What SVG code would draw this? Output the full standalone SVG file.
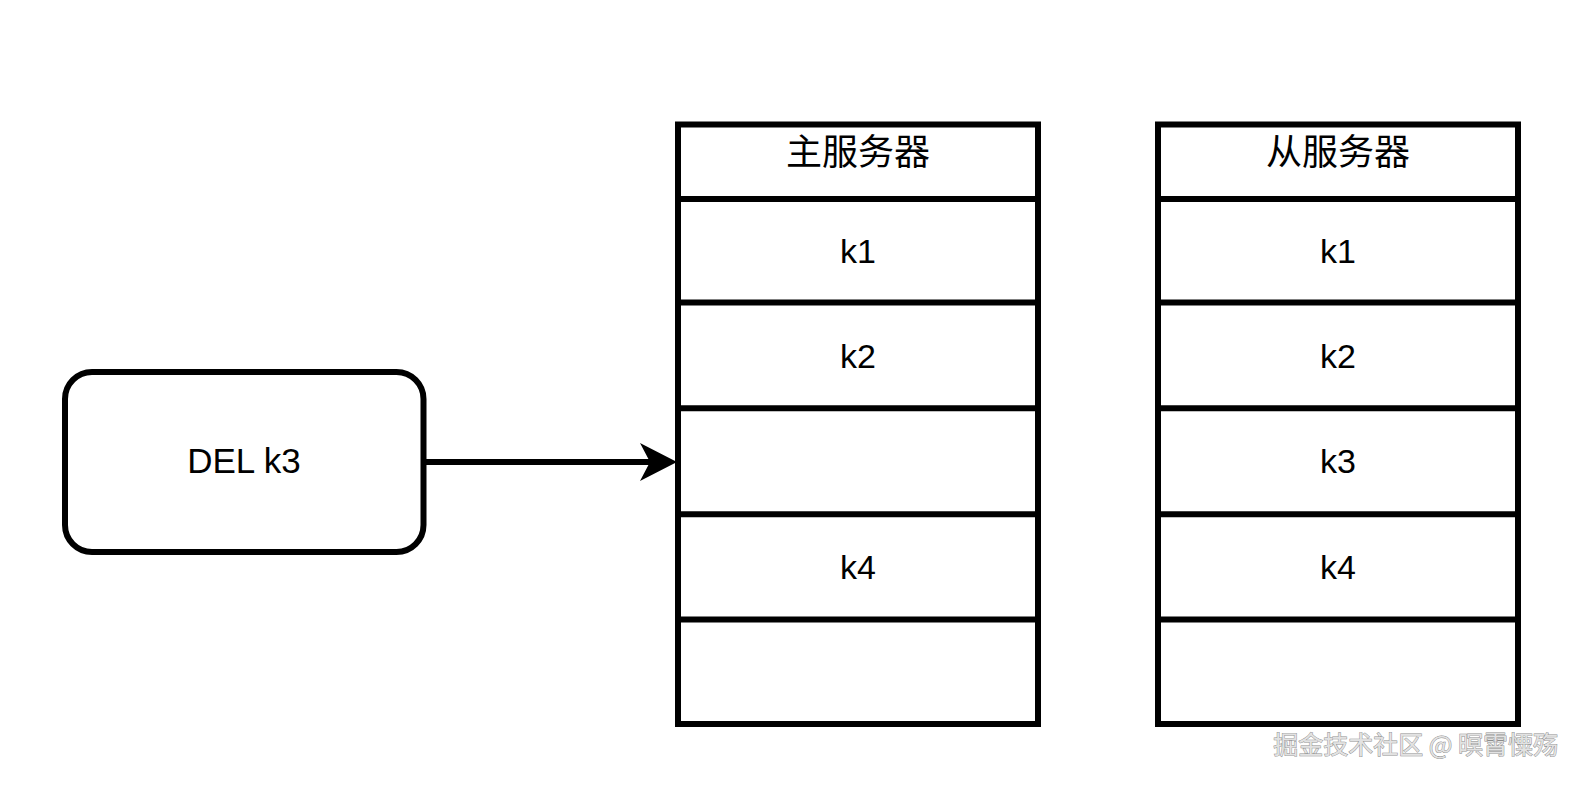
<svg xmlns="http://www.w3.org/2000/svg" width="1581" height="786" viewBox="0 0 1581 786">
<style>
.box{fill:#fff;stroke:#000;stroke-width:6}
.ln{stroke:#000;stroke-width:6;fill:none}
.t{font-family:"Liberation Sans",Arial,sans-serif;font-size:34px;fill:#000;text-anchor:middle}
.c{font-family:"Noto Sans CJK SC","Liberation Sans",sans-serif;font-size:36px;fill:#000;text-anchor:middle}
.wm{font-family:"Noto Sans CJK SC","Liberation Sans",sans-serif;font-size:25px;fill:#e2e2e2;stroke:#8c8c8c;stroke-width:0.9;paint-order:stroke;text-anchor:end}
</style>
<rect width="1581" height="786" fill="#fff"/>
<g id="client">
<rect class="box" x="65" y="372" width="358.5" height="180" rx="27" ry="27"/>
<text class="t" x="244" y="473" style="font-size:35px">DEL k3</text>
</g>
<g id="master">
<rect class="box" x="678" y="124.5" width="360" height="599.5"/>
<line class="ln" x1="678" y1="199" x2="1038" y2="199"/>
<line class="ln" x1="678" y1="302.5" x2="1038" y2="302.5"/>
<line class="ln" x1="678" y1="408.3" x2="1038" y2="408.3"/>
<line class="ln" x1="678" y1="514.2" x2="1038" y2="514.2"/>
<line class="ln" x1="678" y1="619.5" x2="1038" y2="619.5"/>
<text class="c" x="858" y="164.5">主服务器</text>
<text class="t" x="858" y="263">k1</text>
<text class="t" x="858" y="367.5">k2</text>
<text class="t" x="858" y="578.5">k4</text>
</g>
<g id="slave">
<rect class="box" x="1158" y="124.5" width="360" height="599.5"/>
<line class="ln" x1="1158" y1="199" x2="1518" y2="199"/>
<line class="ln" x1="1158" y1="302.5" x2="1518" y2="302.5"/>
<line class="ln" x1="1158" y1="408.3" x2="1518" y2="408.3"/>
<line class="ln" x1="1158" y1="514.2" x2="1518" y2="514.2"/>
<line class="ln" x1="1158" y1="619.5" x2="1518" y2="619.5"/>
<text class="c" x="1338" y="164.5">从服务器</text>
<text class="t" x="1338" y="263">k1</text>
<text class="t" x="1338" y="367.5">k2</text>
<text class="t" x="1338" y="473">k3</text>
<text class="t" x="1338" y="578.5">k4</text>
</g>
<g id="connectors">
<line class="ln" x1="426" y1="462" x2="652" y2="462"/>
<polygon points="677,462 640,443 650,462 640,481" fill="#000"/>
</g>
<text class="wm" x="1558" y="754">掘金技术社区 @ 暝霄憟殇</text>
</svg>
